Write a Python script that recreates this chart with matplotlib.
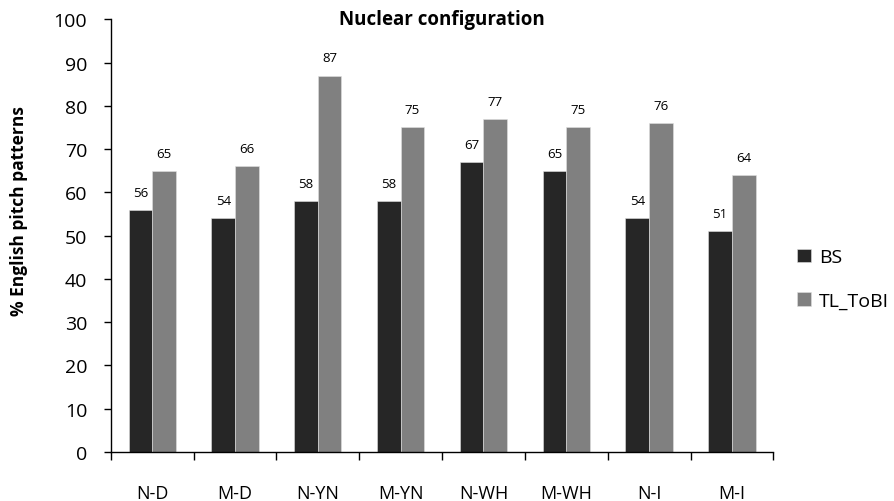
import numpy as np
import matplotlib.pyplot as plt

plt.rcParams['font.family'] = ['Open Sans', 'DejaVu Sans']

# 数据
categories = ['N-D', 'M-D', 'N-YN', 'M-YN', 'N-WH', 'M-WH', 'N-I', 'M-I']
bs = [56, 54, 58, 58, 67, 65, 54, 51]
tl_tobi = [65, 66, 87, 75, 77, 75, 76, 64]

fig = plt.figure(figsize=(8.94, 5.02), dpi=100)
ax = fig.add_axes([0.124, 0.0976, 0.741, 0.862])

x = np.arange(len(categories))
w = 0.285
b1 = ax.bar(x - w / 2, bs, w, color='#262626', edgecolor='#e0e0e0', linewidth=0.4, label='BS')
b2 = ax.bar(x + w / 2, tl_tobi, w, color='#808080', edgecolor='#e0e0e0', linewidth=0.4, label='TL_ToBI')

for bars in (b1, b2):
    for r in bars:
        ax.annotate(str(int(r.get_height())), (r.get_x() + r.get_width() / 2, r.get_height()),
                    xytext=(0, 8), textcoords='offset points', ha='center', va='bottom', fontsize=9.5)

ax.set_xlim(-0.5, len(categories) - 0.5)
ax.set_ylim(0, 100)
ax.set_yticks(range(0, 101, 10))
ax.tick_params(axis='y', labelsize=14, length=5, direction='out', width=1, pad=12)
# 刻度在类别之间
ax.set_xticks(np.arange(-0.5, len(categories), 1))
ax.set_xticklabels([])
ax.set_xticks(x, minor=True)
ax.set_xticklabels(categories, minor=True, fontsize=13)
ax.tick_params(axis='x', which='major', length=6, direction='out', width=1)
ax.tick_params(axis='x', which='minor', length=0, pad=23)

for s in ['top', 'right']:
    ax.spines[s].set_visible(False)
for s in ['left', 'bottom']:
    ax.spines[s].set_color('#000000')
    ax.spines[s].set_linewidth(1)

# y轴标题
fig.text(0.021, 0.58, '% English pitch patterns', rotation=90, ha='center', va='center',
         fontsize=12.5, fontweight='bold')
ax.text(0.5, 1.0, 'Nuclear configuration', transform=ax.transAxes, ha='center', va='center',
        fontsize=13.5, fontweight='bold')

ax.legend(loc='center left', bbox_to_anchor=(1.01, 0.40), frameon=False, fontsize=14,
          handlelength=0.7, handleheight=0.7, labelspacing=1.3, handletextpad=0.4)

fig.savefig('out.png', dpi=100)
